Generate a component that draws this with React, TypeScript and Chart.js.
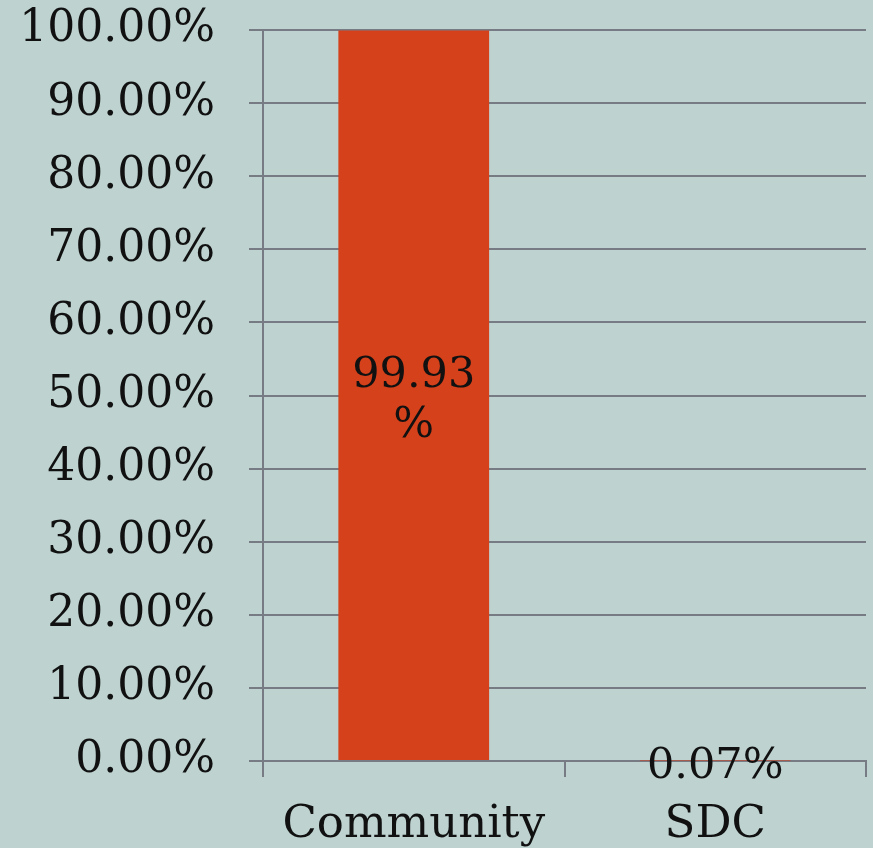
import React, { useEffect, useRef } from "react";
import { Chart, registerables } from "chart.js";

Chart.register(...registerables);

const categories = ["Community", "SDC"];
const shares = [0.9993, 0.0007];
const shareLabels = [["99.93", "%"], ["0.07%"]];
const yMin = 0;
const yMax = 1;
const yStep = 0.1;

const FONT = "'DejaVu Serif', serif";
const GRID = "#767b84";
const BAR = "#d4411b";
const BG = "#bed3d0";

const labelPlugin = {
  id: "barLabels",
  afterDraw(chart: any) {
    const ctx = chart.ctx;
    const meta = chart.getDatasetMeta(0);
    ctx.save();
    ctx.fillStyle = "#111";
    ctx.font = `43px ${FONT}`;
    ctx.textAlign = "center";
    ctx.textBaseline = "middle";
    meta.data.forEach((bar: any, i: number) => {
      const lines = shareLabels[i];
      const h = Math.abs(bar.base - bar.y);
      if (h > 120) {
        const cy = (bar.y + bar.base) / 2 + 6;
        const lh = 50;
        const start = cy - ((lines.length - 1) * lh) / 2;
        lines.forEach((t, k) => ctx.fillText(t, bar.x, start + k * lh));
      } else {
        ctx.fillText(lines.join(""), bar.x, bar.y + 6);
      }
    });
    ctx.restore();
  },
};

export default function App() {
  const ref = useRef<HTMLCanvasElement | null>(null);
  useEffect(() => {
    if (!ref.current) return;
    const chart = new Chart(ref.current, {
      type: "bar",
      data: {
        labels: categories,
        datasets: [
          {
            data: shares,
            backgroundColor: BAR,
            borderWidth: 0,
            barPercentage: 0.5,
            categoryPercentage: 1,
          },
        ],
      },
      options: {
        animation: false,
        responsive: false,
        maintainAspectRatio: false,
        layout: { padding: { top: 30, right: 7, left: 0, bottom: 0 } },
        plugins: { legend: { display: false }, tooltip: { enabled: false } },
        scales: {
          x: {
            z: 1,
            afterFit(scale: any) {
              scale.height = 87;
              scale.paddingLeft = 0;
              scale.paddingRight = 0;
            },
            grid: {
              offset: true,
              drawOnChartArea: false,
              drawTicks: true,
              tickLength: 16,
              color: GRID,
              lineWidth: 2,
            },
            border: { display: true, color: GRID, width: 2 },
            ticks: {
              color: "#111",
              font: { family: FONT, size: 45 },
              padding: 21,
              maxRotation: 0,
            },
          },
          y: {
            min: yMin,
            max: yMax,
            afterFit(scale: any) {
              scale.width = 263;
              scale.paddingTop = 0;
              scale.paddingBottom = 0;
            },
            grid: {
              color: GRID,
              lineWidth: 2,
              drawTicks: true,
              tickLength: 14,
            },
            border: { display: true, color: GRID, width: 2 },
            ticks: {
              stepSize: yStep,
              color: "#111",
              font: { family: FONT, size: 44 },
              padding: 34,
              callback: (v: any) => (Number(v) * 100).toFixed(2) + "%",
            },
          },
        },
      },
      plugins: [labelPlugin],
    });
    return () => chart.destroy();
  }, []);
  return (
    <div
      style={{
        position: "absolute",
        left: 0,
        top: 0,
        width: 873,
        height: 848,
        background: BG,
      }}
    >
      <canvas ref={ref} width={873} height={848} />
    </div>
  );
}
